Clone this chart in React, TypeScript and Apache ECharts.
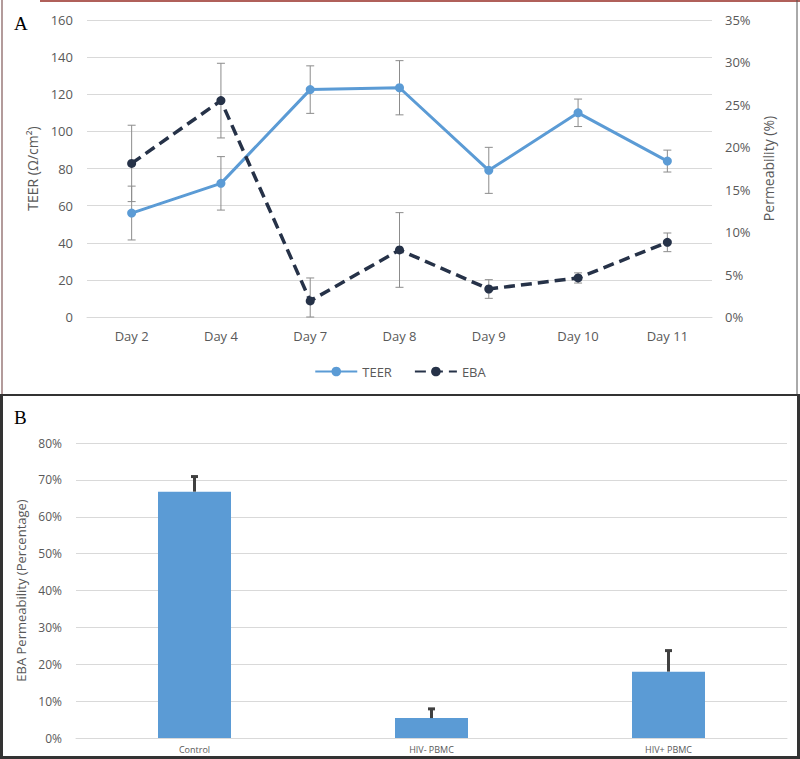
import React, { useEffect, useRef } from "react";
import * as echarts from "echarts";

// Panel A data
const days = ["Day 2", "Day 4", "Day 7", "Day 8", "Day 9", "Day 10", "Day 11"];
const teer = [56, 72, 122.5, 123.5, 79, 110, 84];
const teerErr = [14.5, 14.4, 12.8, 14.6, 12.4, 7.4, 5.9];
const eba = [18.1, 25.5, 1.9, 7.9, 3.3, 4.6, 8.8]; // percent
const ebaErr = [4.5, 4.4, 2.7, 4.4, 1.1, 0.6, 1.1];
const teerTicks = { min: 0, max: 160, interval: 20 };
const permTicks = { min: 0, max: 35, interval: 5 };

// Panel B data
const groups = ["Control", "HIV- PBMC", "HIV+ PBMC"];
const permeability = [66.8, 5.4, 18.0]; // percent
const permErr = [4.1, 2.5, 5.7];
const barTicks = { min: 0, max: 80, interval: 10 };

const FONT = "Open Sans";
const LABEL = "#595959";
const GRID = "#d9d9d9";
const BLUE = "#5B9BD5";
const NAVY = "#263248";

function errRender(capHalf: number, color: string, lw: number) {
  return (params: any, api: any) => {
    const x = api.value(0);
    const lo = Math.max(0, api.value(1));
    const hi = api.value(2);
    const pHi = api.coord([x, hi]);
    const pLo = api.coord([x, lo]);
    return {
      type: "group",
      children: [
        { type: "line", shape: { x1: pHi[0], y1: pHi[1], x2: pLo[0], y2: pLo[1] }, style: { stroke: color, lineWidth: lw } },
        { type: "line", shape: { x1: pHi[0] - capHalf, y1: pHi[1], x2: pHi[0] + capHalf, y2: pHi[1] }, style: { stroke: color, lineWidth: lw } },
        { type: "line", shape: { x1: pLo[0] - capHalf, y1: pLo[1], x2: pLo[0] + capHalf, y2: pLo[1] }, style: { stroke: color, lineWidth: lw } },
      ],
    };
  };
}

function barErrRender(capHalf: number, color: string, lw: number) {
  return (params: any, api: any) => {
    const x = api.value(0);
    const lo = api.value(1);
    const hi = api.value(2);
    const pHi = api.coord([x, hi]);
    const pLo = api.coord([x, lo]);
    return {
      type: "group",
      children: [
        { type: "line", shape: { x1: pHi[0], y1: pHi[1], x2: pLo[0], y2: pLo[1] }, style: { stroke: color, lineWidth: lw } },
        { type: "line", shape: { x1: pHi[0] - capHalf, y1: pHi[1], x2: pHi[0] + capHalf, y2: pHi[1] }, style: { stroke: color, lineWidth: lw } },
      ],
    };
  };
}

export default function App() {
  const ref = useRef<HTMLDivElement>(null);
  useEffect(() => {
    document.body.style.margin = "0";
    const chart = echarts.init(ref.current!, null, { renderer: "svg" });
    const axisLabel = { color: LABEL, fontFamily: FONT, fontSize: 13 };
    const option: any = {
      animation: false,
      backgroundColor: "#ffffff",
      textStyle: { fontFamily: FONT },
      legend: {
        data: ["TEER", "EBA"],
        top: 360,
        left: "center",
        itemWidth: 42,
        itemHeight: 12,
        itemGap: 22,
        textStyle: { color: LABEL, fontFamily: FONT, fontSize: 13 },
      },
      grid: [
        { left: 87, right: 88, top: 20, bottom: 442 },
        { left: 76, right: 13, top: 443, bottom: 21 },
      ],
      xAxis: [
        {
          type: "category",
          gridIndex: 0,
          data: days,
          axisTick: { show: false },
          axisLine: { lineStyle: { color: GRID } },
          axisLabel: { ...axisLabel, margin: 12 },
        },
        {
          type: "category",
          gridIndex: 1,
          data: groups,
          axisTick: { show: false },
          axisLine: { lineStyle: { color: GRID } },
          axisLabel: { color: LABEL, fontFamily: FONT, fontSize: 9, margin: 7 },
        },
      ],
      yAxis: [
        {
          type: "value",
          gridIndex: 0,
          ...teerTicks,
          name: "TEER (Ω/cm²)",
          nameLocation: "middle",
          nameGap: 37,
          nameTextStyle: { color: LABEL, fontFamily: FONT, fontSize: 14 },
          axisLabel: { ...axisLabel, margin: 14 },
          axisLine: { show: false },
          axisTick: { show: false },
          splitLine: { lineStyle: { color: GRID } },
        },
        {
          type: "value",
          gridIndex: 0,
          position: "right",
          ...permTicks,
          name: "Permeability (%)",
          nameLocation: "middle",
          nameGap: 49,
          nameRotate: 90,
          nameTextStyle: { color: LABEL, fontFamily: FONT, fontSize: 14 },
          axisLabel: { ...axisLabel, margin: 13, formatter: "{value}%" },
          axisLine: { show: false },
          axisTick: { show: false },
          splitLine: { show: false },
        },
        {
          type: "value",
          gridIndex: 1,
          ...barTicks,
          name: "EBA Permeability (Percentage)",
          nameLocation: "middle",
          nameGap: 47,
          nameTextStyle: { color: LABEL, fontFamily: FONT, fontSize: 13 },
          axisLabel: { color: LABEL, fontFamily: FONT, fontSize: 12, margin: 14, formatter: "{value}%" },
          axisLine: { show: false },
          axisTick: { show: false },
          splitLine: { lineStyle: { color: GRID } },
        },
      ],
      series: [
        {
          name: "TEER err",
          type: "custom",
          xAxisIndex: 0,
          yAxisIndex: 0,
          z: 1,
          renderItem: errRender(4, "#8c8c8c", 1),
          encode: { x: 0, y: [1, 2] },
          data: teer.map((v, i) => [i, v - teerErr[i], v + teerErr[i]]),
        },
        {
          name: "EBA err",
          type: "custom",
          xAxisIndex: 0,
          yAxisIndex: 1,
          z: 1,
          renderItem: errRender(4, "#8c8c8c", 1),
          encode: { x: 0, y: [1, 2] },
          data: eba.map((v, i) => [i, v - ebaErr[i], v + ebaErr[i]]),
        },
        {
          name: "TEER",
          type: "line",
          xAxisIndex: 0,
          yAxisIndex: 0,
          z: 3,
          data: teer,
          symbol: "circle",
          symbolSize: 9,
          lineStyle: { color: BLUE, width: 3 },
          itemStyle: { color: BLUE },
        },
        {
          name: "EBA",
          type: "line",
          xAxisIndex: 0,
          yAxisIndex: 1,
          z: 4,
          data: eba,
          symbol: "circle",
          symbolSize: 9,
          lineStyle: { color: NAVY, width: 3.5, type: [11, 6] },
          itemStyle: { color: NAVY },
        },
        {
          name: "Permeability",
          type: "bar",
          xAxisIndex: 1,
          yAxisIndex: 2,
          data: permeability,
          barWidth: 73,
          itemStyle: { color: BLUE },
          z: 2,
        },
        {
          name: "Perm err",
          type: "custom",
          xAxisIndex: 1,
          yAxisIndex: 2,
          z: 3,
          renderItem: barErrRender(3.5, "#404040", 3),
          encode: { x: 0, y: [1, 2] },
          data: permeability.map((v, i) => [i, v, v + permErr[i]]),
        },
      ],
      graphic: [
        { type: "text", left: 14, top: 14, style: { text: "A", font: "19px 'Liberation Serif'", fill: "#000" } },
        { type: "text", left: 14, top: 408, style: { text: "B", font: "19px 'Liberation Serif'", fill: "#000" } },
        { type: "line", shape: { x1: 40, y1: 1, x2: 800, y2: 1 }, style: { stroke: "#b0605a", lineWidth: 2 } },
        { type: "line", shape: { x1: 2, y1: 0, x2: 2, y2: 395 }, style: { stroke: "#9a7a7a", lineWidth: 1.5 } },
        { type: "line", shape: { x1: 797, y1: 0, x2: 797, y2: 395 }, style: { stroke: "#555", lineWidth: 1 } },
        { type: "line", shape: { x1: 0, y1: 395, x2: 800, y2: 395 }, style: { stroke: "#333", lineWidth: 2 } },
        { type: "line", shape: { x1: 1.5, y1: 395, x2: 1.5, y2: 759 }, style: { stroke: "#333", lineWidth: 3 } },
        { type: "line", shape: { x1: 798.5, y1: 395, x2: 798.5, y2: 759 }, style: { stroke: "#333", lineWidth: 3 } },
        { type: "line", shape: { x1: 0, y1: 757.5, x2: 800, y2: 757.5 }, style: { stroke: "#333", lineWidth: 3 } },
      ],
    };
    chart.setOption(option);
    return () => chart.dispose();
  }, []);
  return <div ref={ref} style={{ position: "fixed", left: 0, top: 0, width: 800, height: 759 }} />;
}
